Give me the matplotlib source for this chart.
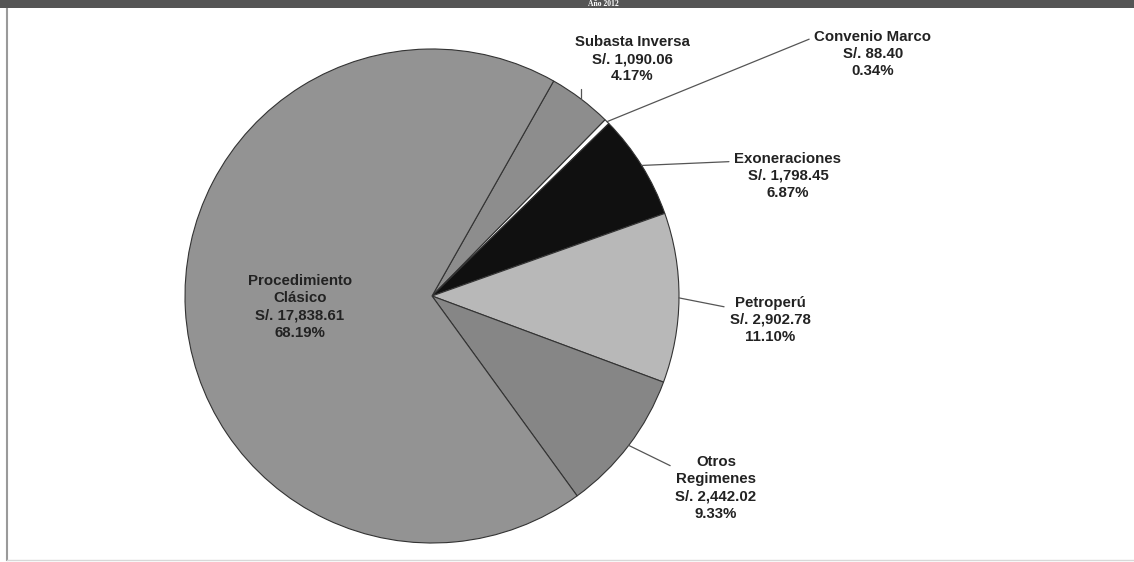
import numpy as np
import matplotlib.pyplot as plt
from matplotlib.patches import Rectangle

plt.rcParams['font.family'] = ['Liberation Sans', 'DejaVu Sans']

# datos (millones de soles) - orden horario desde arriba
categorias = ['Subasta Inversa', 'Convenio Marco', 'Exoneraciones', 'Petroperú',
              'Otros\nRegimenes', 'Procedimiento\nClásico']
montos = [1090.06, 88.40, 1798.45, 2902.78, 2442.02, 17838.61]
montos_txt = ['1,090.06', '88.40', '1,798.45', '2,902.78', '2,442.02', '17,838.61']
porcentajes = [4.17, 0.34, 6.87, 11.10, 9.33, 68.19]
colores = ['#8d8d8d', '#ffffff', '#101010', '#b8b8b8', '#868686', '#939393']
titulo = 'Año 2012'

W, H = 1134, 562
fig = plt.figure(figsize=(W / 100, H / 100), dpi=100)
fig.patch.set_facecolor('white')

# barra superior oscura
fig.patches.append(Rectangle((0, 1 - 8 / H), 1, 8 / H, transform=fig.transFigure,
                             facecolor='#555555', edgecolor='none', zorder=0))
fig.text(603 / W, 1 - 4.5 / H, titulo, color='white', fontsize=5.5, fontweight='bold',
         ha='center', va='center', family='Liberation Serif')
# marco del grafico
fig.add_artist(plt.Line2D([7 / W, 7 / W], [2 / H, 1 - 9 / H], transform=fig.transFigure,
                          color='#9a9a9a', lw=1.5))
fig.add_artist(plt.Line2D([7 / W, 1], [2 / H, 2 / H], transform=fig.transFigure,
                          color='#d8d8d8', lw=1))

cx, cy, r = 432, 296, 247
R = 250 / r
ax = fig.add_axes([(cx - 250) / W, (H - cy - 250) / H, 500 / W, 500 / H])
wedges, _ = ax.pie(montos, colors=colores, startangle=60.5, counterclock=False,
                   radius=1, wedgeprops=dict(edgecolor='#333333', linewidth=0.8))
ax.set_xlim(-R, R)
ax.set_ylim(-R, R)
ax.set_aspect('equal')
ax.axis('off')


def px(x, y):
    return ((x - cx) / r, (cy - y) / r)


# posiciones de etiquetas (px en la imagen)
pos = [(632, 59), (873, 54), (788, 176), (770, 320), (716, 488), (300, 307)]
rel = [(0.2, 0.1), (0.0, 0.85), (0.0, 0.8), (0.0, 0.75), (0.0, 0.8), None]
conn = ['angle,angleA=180,angleB=90,rad=0', 'arc3', 'arc3', 'arc3', 'arc3', None]

estilo = dict(ha='center', va='center', fontsize=10.8, fontweight='bold',
              color='#222222', linespacing=1.3)

for i, w in enumerate(wedges):
    etiqueta = f'{categorias[i]}\nS/. {montos_txt[i]}\n{porcentajes[i]:.2f}%'
    tx, ty = px(*pos[i])
    if rel[i] is None:
        ax.text(tx, ty, etiqueta, **estilo)
        continue
    ang = np.deg2rad((w.theta1 + w.theta2) / 2)
    ax.annotate(etiqueta, xy=(np.cos(ang), np.sin(ang)), xytext=(tx, ty),
                annotation_clip=False, **estilo,
                arrowprops=dict(arrowstyle='-', color='#555555', lw=0.9,
                                shrinkA=2, shrinkB=0, relpos=rel[i],
                                connectionstyle=conn[i]))

fig.savefig('out.png', dpi=100)
